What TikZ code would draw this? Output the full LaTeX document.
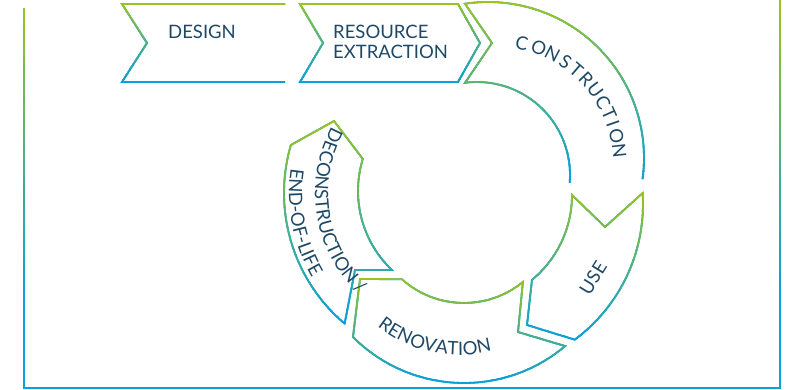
\documentclass[tikz,border=0pt]{standalone}
\usepackage{fontspec}
\setmainfont{Lato}
\usetikzlibrary{decorations.text}
\definecolor{lifegreen}{HTML}{9DC41C}
\definecolor{lifeblue}{HTML}{0AA0D8}
\definecolor{lifetext}{HTML}{1E4966}
\newcommand{\stagefont}{\fontsize{18.5}{19.5}\selectfont}
\tikzset{
	%Define style for the outlines
	outline/.style={line width=1.8pt, line join=miter},
	%Define style for the frame
	frameline/.style={line width=2.2pt},
	%Define style for the stage labels
	stage/.style={font=\stagefont, text=lifetext, inner sep=0pt},
	% Define style for labels bent along an arc
	arctext/.style={decorate, decoration={text along path, text align=center, text={|\color{lifetext}\stagefont|#1}}}
}
% outline in blue, then green to blue bands from #2 (top) to #3 (bottom)
\newcommand{\gradpath}[4][outline]{%
	\draw[#1, draw=lifeblue] #4;
	\foreach \k in {0,...,29}{%
		\pgfmathsetmacro{\ya}{#2-3+(#3-#2+3)*\k/30}%
		\pgfmathsetmacro{\yb}{#2-3+(#3-#2+3)*(\k+1)/30+0.4}%
		\pgfmathtruncatemacro{\gradmix}{100-100*\k/29}%
		\begin{scope}
			\clip (-5,\ya) rectangle (795,\yb);
			\draw[#1, draw=lifegreen!\gradmix!lifeblue] #4;
		\end{scope}
	}%
}

\begin{document}
\begin{tikzpicture}[x=1pt, y=-1pt]
	\useasboundingbox (0,0) rectangle (790,390);
	
	% centres of the ring pieces
	\coordinate (conout) at (488,158);
	\coordinate (conin) at (477,175);
	\coordinate (contxt) at (495,165);
	\coordinate (useout) at (474,204);
	\coordinate (usein) at (462,195);
	\coordinate (renout) at (464,226);
	\coordinate (renin) at (464,210);
	\coordinate (rentxt) at (459,224);
	\coordinate (decout) at (455,193);
	\coordinate (decin) at (467,191);
	
	% frame
	\gradpath[frameline]{0}{300}{(24,8) -- (24,388) -- (780,388) -- (780,0)}
	
	% chevrons
	\gradpath{4}{82}{(285,4) -- (122,4) -- (147,43) -- (122,82) -- (285,82)}
	\gradpath{4}{82}{(458,4) -- (300,4) -- (323,43) -- (300,82) -- (458,82) -- (480,43) -- cycle}
	
	% ring
	\gradpath{4}{183}{([shift={(4.9:93)}]conin) arc[start angle=4.9, end angle=-97.4, radius=93] -- (492,43) -- ([shift={(-98.5:156)}]conout) arc[start angle=-98.5, end angle=7.8, radius=156]}
	\gradpath{193}{340}{([shift={(0:110)}]usein) -- (605,227) -- ([shift={(-3.7:169)}]useout) arc[start angle=-3.7, end angle=53.4, radius=169] -- (527,325) -- ([shift={(50.5:110)}]usein) arc[start angle=50.5, end angle=0, radius=110] -- cycle}
	\gradpath{279}{383}{([shift={(50.7:93)}]renin) -- (518,332) -- ([shift={(49.9:157)}]renout) arc[start angle=49.9, end angle=135, radius=157] -- (360,279) -- ([shift={(131.9:93)}]renin) arc[start angle=131.9, end angle=50.7, radius=93] -- cycle}
	\gradpath{121}{323}{([shift={(133.5:109)}]decin) -- (355,270) -- ([shift={(130.2:171)}]decout) arc[start angle=130.2, end angle=196.3, radius=171] -- (334,121) -- ([shift={(197.1:109)}]decin) arc[start angle=197.1, end angle=133.5, radius=109] -- cycle}
	
	% labels
	\node[stage] (design) at (202,32) {DESIGN};
	\node[stage, anchor=west, align=left] (resource) at (333,42) {RESOURCE\\EXTRACTION};
	\foreach \l/\ang [count=\i] in {C/-77.6,O/-69.5,N/-62.6,S/-55.6,T/-49.4,R/-43.2,U/-36.8,C/-30.2,T/-24.0,I/-19.2,O/-13.4,N/-6.4}{
		\node[stage, rotate=-90-\ang] (con\i) at ([shift={(\ang:125)}]contxt) {\l};
	}
	\node[stage, rotate=58] (use) at (593,278) {USE};
	\path[arctext=RENOVATION] ([shift={(140:131)}]rentxt) arc[start angle=140, end angle=64, radius=131];
	\path[arctext=DECONSTRUCTION /] ([shift={(215:140)}]decout) arc[start angle=215, end angle=127, radius=140];
	\path[arctext=END-OF-LIFE] ([shift={(204:166)}]decout) arc[start angle=204, end angle=134, radius=166];
	
\end{tikzpicture}
\end{document}
